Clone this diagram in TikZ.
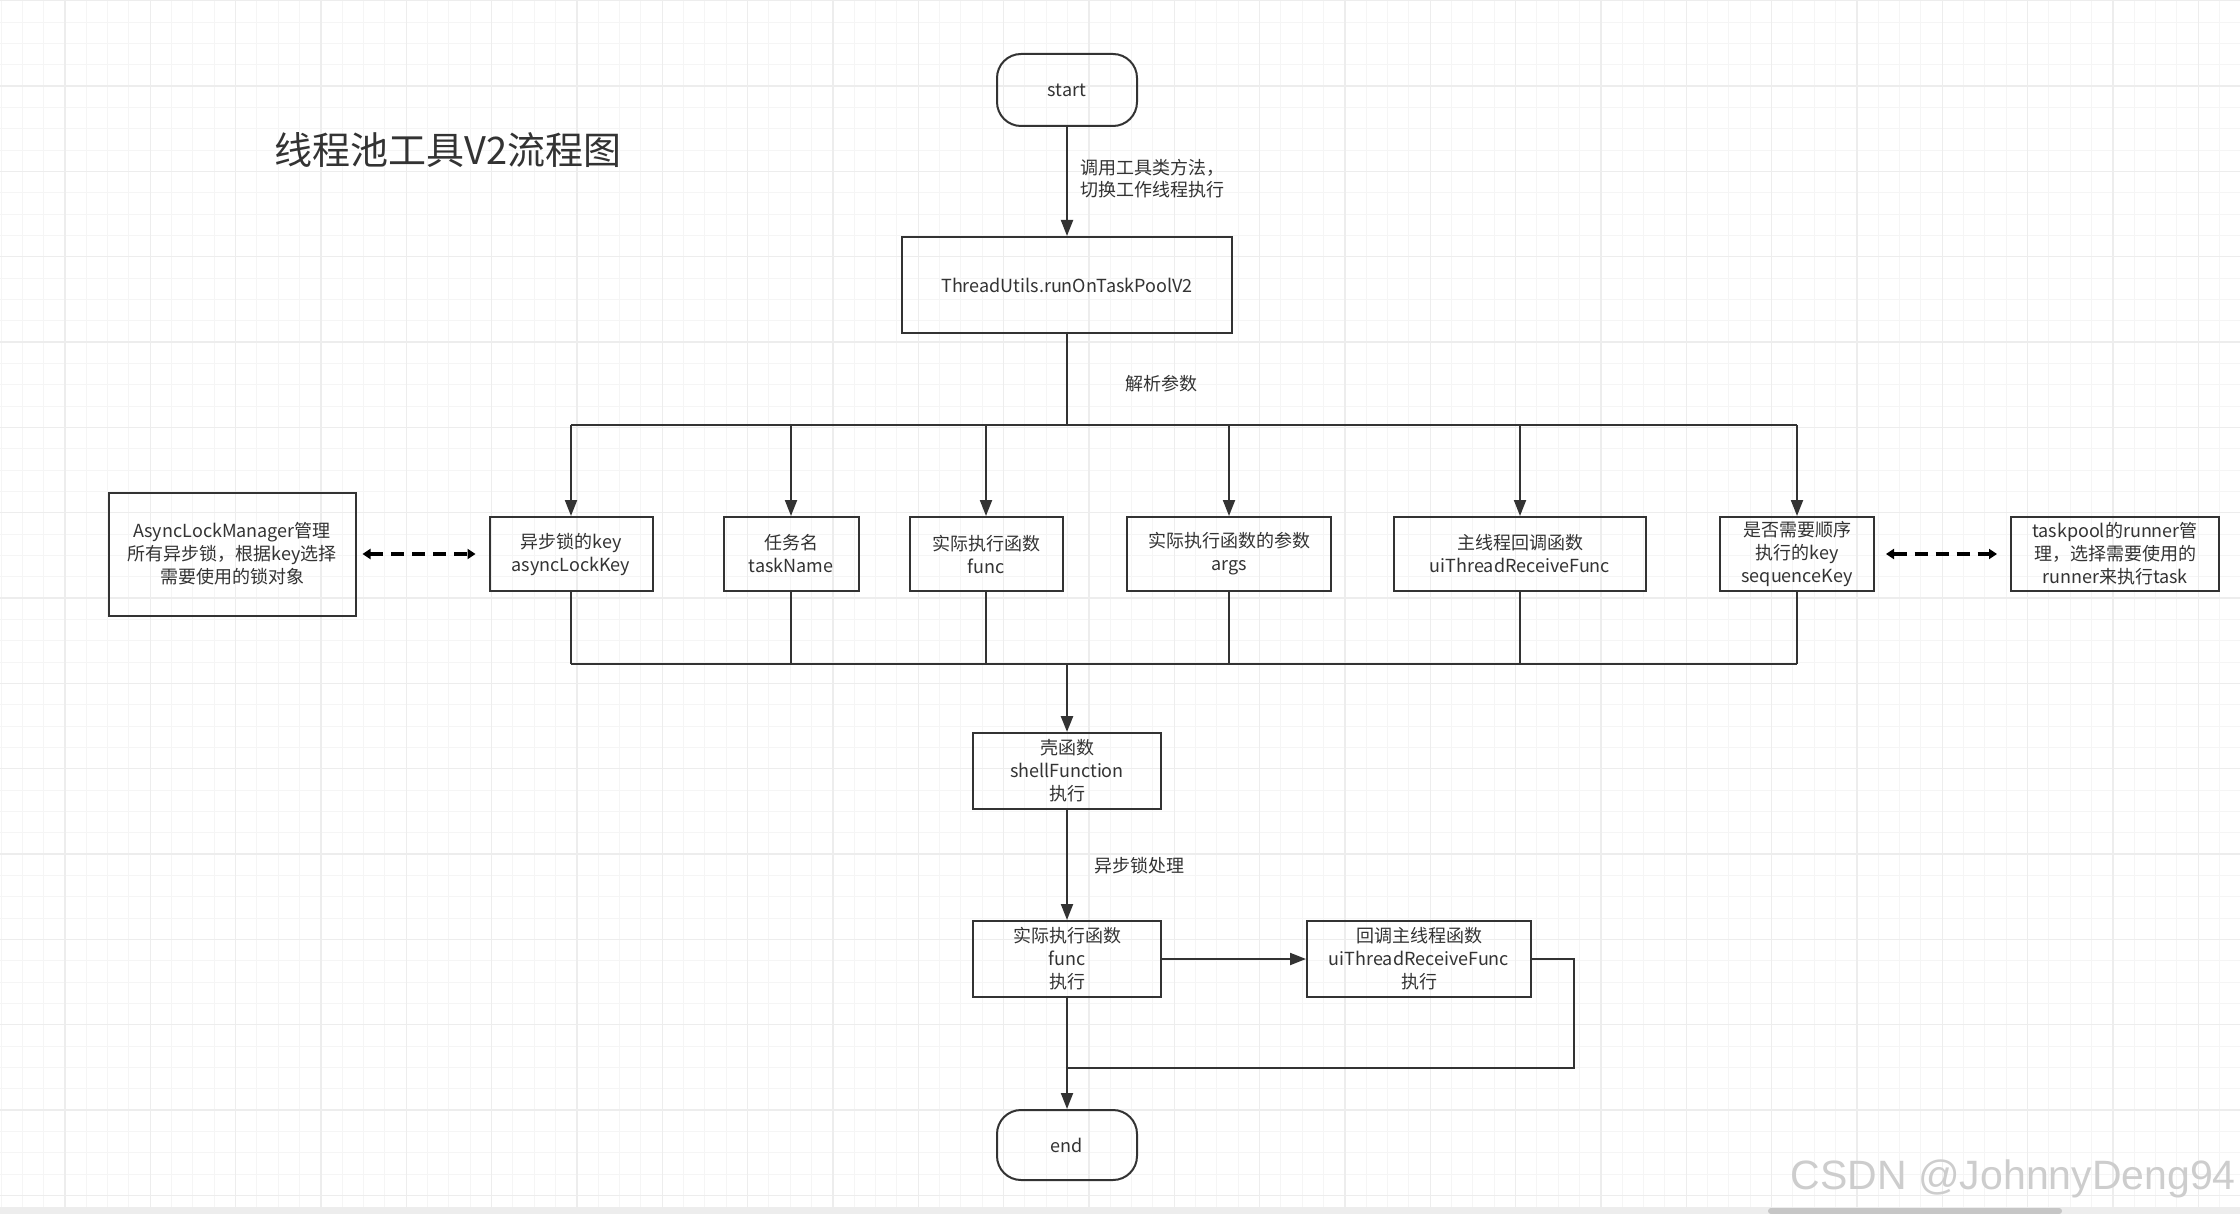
\documentclass[tikz,border=0pt]{standalone}
\usepackage{fontspec}
\setmainfont{Noto Sans CJK SC}
\newfontfamily\markfont{Liberation Sans}
\usepackage{tikz}
\usetikzlibrary{positioning, arrows.meta}
\definecolor{ink}{HTML}{333333}
\definecolor{gridminor}{HTML}{F5F5F5}
\definecolor{gridmajor}{HTML}{EDEDED}
\definecolor{markgray}{HTML}{CDCDCD}
\definecolor{barstrip}{HTML}{EDEDED}
\definecolor{barthumb}{HTML}{C6C6C6}

\tikzset{
  flowbox/.style={draw=ink, line width=2pt, text=ink, align=center, inner sep=0pt,
    font=\fontsize{18}{23}\selectfont},
  rowbox/.style={flowbox, minimum height=74pt},
  terminal/.style={flowbox, rounded corners=24pt, minimum width=140pt, minimum height=72pt},
  link/.style={draw=ink, line width=2pt, -{Triangle[length=16pt,width=12pt]}},
  wire/.style={draw=ink, line width=2pt},
  trunk/.style={draw=ink, line width=2.6pt},
  assoc/.style={draw=black, line width=4.4pt, dash pattern=on 13pt off 8pt,
    {Triangle[length=8pt,width=10pt,sep=5pt]}-{Triangle[length=8pt,width=10pt,sep=5pt]}},
  note/.style={text=ink, inner sep=0pt, align=left, font=\fontsize{18}{22}\selectfont}
}

\begin{document}
\begin{tikzpicture}[x=1pt, y=-1pt, on grid]
    \useasboundingbox (0,0) rectangle (2240,1214);
    \fill[white] (0,0) rectangle (2240,1214);

    % background grid
    \foreach \i in {0,...,104}
        \draw[gridminor, line width=1pt] ({1+21.333*\i},0) -- ({1+21.333*\i},1214);
    \foreach \j in {0,...,56}
        \draw[gridminor, line width=1pt] (0,{0.7+21.333*\j}) -- (2240,{0.7+21.333*\j});
    \foreach \i in {0,...,25}
        \draw[gridmajor, line width=1.4pt] ({65+85.333*\i},0) -- ({65+85.333*\i},1214);
    \foreach \j in {0,...,14}
        \draw[gridmajor, line width=1.4pt] (0,{0.7+85.333*\j}) -- (2240,{0.7+85.333*\j});
    \fill[barstrip] (0,1207) rectangle (2240,1214);
    \fill[barthumb, rounded corners=3pt] (1768,1208) rectangle (2062,1214);

    \node[text=ink, inner sep=0pt, anchor=west, font=\fontsize{38}{40}\selectfont] (title) at (274,150) {线程池工具V2流程图};

    % main column
    \node[terminal] (start) at (1067,90) {start};
    \node[flowbox, minimum width=330pt, minimum height=96pt] (tpv2) [below=195pt of start] {ThreadUtils.runOnTaskPoolV2};

    % parameters
    \node[rowbox, minimum width=163pt] (lockkey) at (571,554) {异步锁的key\\asyncLockKey};
    \node[rowbox, minimum width=135pt] (taskname) [right=220pt of lockkey] {任务名\\taskName};
    \node[rowbox, minimum width=153pt] (func) [right=195pt of taskname] {实际执行函数\\func};
    \node[rowbox, minimum width=204pt] (args) [right=243pt of func] {实际执行函数的参数\\args};
    \node[rowbox, minimum width=252pt] (uirecv) [right=291pt of args] {主线程回调函数\\uiThreadReceiveFunc};
    \node[rowbox, minimum width=154pt] (seqkey) [right=277pt of uirecv] {是否需要顺序\\执行的key\\sequenceKey};
    \node[flowbox, minimum width=247pt, minimum height=123pt] (lockmgr) [left=339pt of lockkey] {AsyncLockManager管理\\所有异步锁，根据key选择\\需要使用的锁对象};
    \node[rowbox, minimum width=208pt] (runnermgr) [right=318pt of seqkey] {taskpool的runner管\\理，选择需要使用的\\runner来执行task};

    % execution
    \node[flowbox, minimum width=188pt, minimum height=76pt] (shell) [below=486pt of tpv2] {壳函数\\shellFunction\\执行};
    \node[flowbox, minimum width=188pt, minimum height=76pt] (funcrun) [below=188pt of shell] {实际执行函数\\func\\执行};
    \node[flowbox, minimum width=224pt, minimum height=76pt] (uirun) [right=352pt of funcrun] {回调主线程函数\\uiThreadReceiveFunc\\执行};
    \node[terminal, minimum height=70pt] (stop) [below=186pt of funcrun] {end};

    \coordinate (split) at ([yshift=-91pt]tpv2.south);
    \coordinate (merge) at ([yshift=-72pt]lockkey.south);
    \coordinate (join) at ([yshift=-70pt]funcrun.south);

    \draw[link] (start) -- (tpv2);
    \node[note, anchor=west] (callnote) at (1080,179) {调用工具类方法，\\切换工作线程执行};

    \draw[trunk] (tpv2.south) -- (split);
    \draw[wire] (lockkey.north |- split) -- (seqkey.north |- split);
    \node[note] (parsenote) at (1161,384) {解析参数};
    \foreach \n in {lockkey, taskname, func, args, uirecv, seqkey}
        \draw[link] (\n.north |- split) -- (\n.north);
    \foreach \n in {lockkey, taskname, func, args, uirecv, seqkey}
        \draw[wire] (\n.south) -- (\n.south |- merge);
    \draw[wire] (lockkey.south |- merge) -- (seqkey.south |- merge);
    \draw[link, line width=2.6pt] (shell.north |- merge) -- (shell.north);

    \draw[assoc, shorten <=1pt, shorten >=8pt] (lockmgr) -- (lockkey);
    \draw[assoc, shorten <=6pt, shorten >=8pt] (seqkey) -- (runnermgr);

    \draw[link] (shell) -- (funcrun);
    \node[note] (locknote) at (1139,866) {异步锁处理};
    \draw[link] (funcrun) -- (uirun);
    \draw[wire] (uirun.east) -- ++(42pt,0) |- (join);
    \draw[link] (funcrun) -- (stop);

    \node[text=markgray, inner sep=0pt, anchor=east, font=\markfont\fontsize{41}{41}\selectfont] (mark) at (2236,1179) {CSDN @JohnnyDeng94};
\end{tikzpicture}
\end{document}
